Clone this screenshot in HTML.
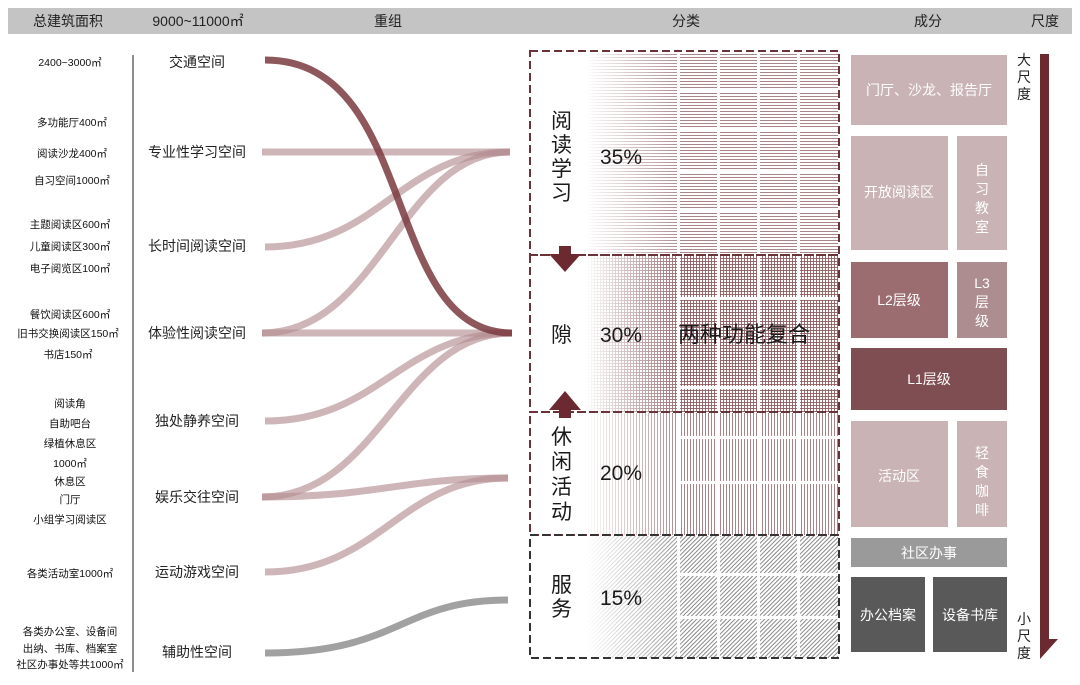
<!DOCTYPE html>
<html><head><meta charset="utf-8"><style>
body{margin:0;background:#fff;}
svg{display:block;font-family:"Liberation Sans","Noto Sans CJK SC",sans-serif;}
</style></head><body>
<svg width="1080" height="685" viewBox="0 0 1080 685" xmlns="http://www.w3.org/2000/svg">
<defs>
<pattern id="ph" width="4" height="3" patternUnits="userSpaceOnUse"><rect width="4" height="1" fill="#a98587"/></pattern>
<pattern id="pg" width="3" height="3" patternUnits="userSpaceOnUse"><rect width="3" height="0.9" fill="#8e5d61"/><rect width="0.9" height="3" fill="#8e5d61"/></pattern>
<pattern id="pv" width="3" height="4" patternUnits="userSpaceOnUse"><rect width="1" height="4" fill="#a98587"/></pattern>
<pattern id="pd" width="3" height="3" patternUnits="userSpaceOnUse" patternTransform="rotate(45)"><rect width="1" height="3" fill="#8a8a8a"/></pattern>
<linearGradient id="fg" x1="0" x2="1" y1="0" y2="0"><stop offset="0" stop-color="#fff" stop-opacity="0"/><stop offset="1" stop-color="#fff"/></linearGradient>
<mask id="fm" maskUnits="userSpaceOnUse" x="0" y="0" width="1080" height="685"><rect x="585" y="0" width="100" height="685" fill="url(#fg)"/><rect x="684" y="0" width="200" height="685" fill="#fff"/></mask>
</defs>
<rect x="8" y="8" width="1064" height="26" fill="#c4c4c4"/>
<g font-size="14" fill="#222" text-anchor="middle">
<text x="68" y="26">总建筑面积</text><text x="198" y="26">9000~11000㎡</text>
<text x="388" y="26">重组</text><text x="686" y="26">分类</text><text x="928" y="26">成分</text><text x="1045" y="26">尺度</text>
</g>
<line x1="133" y1="55" x2="133" y2="672" stroke="#444" stroke-width="1.2"/>
<g font-size="10.5" fill="#111" text-anchor="middle">
<text x="70" y="66">2400~3000㎡</text>
<text x="72" y="126">多功能厅400㎡</text><text x="72" y="157">阅读沙龙400㎡</text><text x="72" y="184">自习空间1000㎡</text>
<text x="70" y="228">主题阅读区600㎡</text><text x="70" y="250">儿童阅读区300㎡</text><text x="70" y="272">电子阅览区100㎡</text>
<text x="70" y="318">餐饮阅读区600㎡</text><text x="68" y="337">旧书交换阅读区150㎡</text><text x="68" y="358">书店150㎡</text>
<text x="70" y="407">阅读角</text><text x="70" y="427">自助吧台</text><text x="70" y="447">绿植休息区</text><text x="70" y="467">1000㎡</text>
<text x="70" y="485">休息区</text><text x="70" y="503">门厅</text><text x="70" y="523">小组学习阅读区</text>
<text x="70" y="577">各类活动室1000㎡</text>
<text x="70" y="635">各类办公室、设备间</text><text x="70" y="652">出纳、书库、档案室</text><text x="70" y="668">社区办事处等共1000㎡</text>
</g>
<g font-size="14" fill="#222" text-anchor="middle">
<text x="197" y="67">交通空间</text><text x="197" y="157">专业性学习空间</text><text x="197" y="251">长时间阅读空间</text>
<text x="197" y="338">体验性阅读空间</text><text x="197" y="426">独处静养空间</text><text x="197" y="502">娱乐交往空间</text>
<text x="197" y="577">运动游戏空间</text><text x="197" y="657">辅助性空间</text>
</g>
<g fill="none" stroke-width="7" stroke-linecap="butt">
<g stroke="#b48e92" stroke-opacity="0.65">
<path d="M262 152 L510 152"/>
<path d="M265 247 C380 247 400 152 510 152"/>
<path d="M262 333 C380 333 400 152 510 152"/>
<path d="M262 333 L512 333"/>
<path d="M265 421 C380 421 400 333 512 333"/>
<path d="M262 497 C380 497 400 333 512 333"/>
<path d="M262 497 C380 497 400 478 508 478"/>
<path d="M265 572 C380 572 400 478 508 478"/>
</g>
<path d="M265 60 C420 60 380 333 512 333" stroke="#7a3a40" stroke-opacity="0.85"/>
<path d="M265 653 C400 653 400 600 508 600" stroke="#8a8a8a" stroke-opacity="0.8"/>
</g>
<g mask="url(#fm)">
<rect x="585" y="52" width="253" height="203" fill="url(#ph)"/>
<rect x="585" y="256" width="253" height="156" fill="url(#pg)"/>
<rect x="585" y="413" width="253" height="122" fill="url(#pv)"/>
<rect x="585" y="536" width="253" height="122" fill="url(#pd)"/>
</g>
<g fill="#fff">
<rect x="677" y="50" width="3" height="608"/><rect x="717" y="50" width="3" height="608"/>
<rect x="757" y="50" width="3" height="608"/><rect x="797" y="50" width="3" height="608"/>
<rect x="680" y="89" width="160" height="3"/><rect x="680" y="129" width="160" height="3"/>
<rect x="680" y="169" width="160" height="3"/><rect x="680" y="209" width="160" height="3"/>
<rect x="680" y="297" width="160" height="3"/><rect x="680" y="386" width="160" height="3"/>
<rect x="680" y="436" width="160" height="3"/><rect x="680" y="481" width="160" height="3"/>
<rect x="680" y="573" width="160" height="3"/><rect x="680" y="616" width="160" height="3"/>
</g>
<g fill="none" stroke-width="2" stroke-dasharray="8 4">
<rect x="530" y="51" width="309" height="204" stroke="#6b3338"/>
<rect x="530" y="255" width="309" height="157" stroke="#6b3338"/>
<rect x="530" y="412" width="309" height="123" stroke="#6b3338"/>
<rect x="530" y="535" width="309" height="123" stroke="#333"/>
</g>
<path d="M559 246 h12 v8 h10 l-16 18 l-16 -18 h10 z" fill="#6b2a2f"/>
<path d="M559 418 h12 v-8 h10 l-16 -19 l-16 19 h10 z" fill="#6b2a2f"/>
<g font-size="21" fill="#1a1a1a">
<text x="551" y="128">阅</text><text x="551" y="152">读</text><text x="551" y="176">学</text><text x="551" y="200">习</text>
<text x="600" y="164">35%</text>
<text x="551" y="342">隙</text><text x="600" y="342">30%</text><text x="678" y="342" font-size="22">两种功能复合</text>
<text x="551" y="444">休</text><text x="551" y="469">闲</text><text x="551" y="494">活</text><text x="551" y="519">动</text>
<text x="600" y="480">20%</text>
<text x="551" y="592">服</text><text x="551" y="616">务</text><text x="600" y="605">15%</text>
</g>
<g>
<rect x="851" y="55" width="156" height="70" fill="#c9b3b4"/>
<rect x="851" y="136" width="97" height="114" fill="#c9b3b4"/>
<rect x="957" y="136" width="50" height="114" fill="#c9b3b4"/>
<rect x="851" y="262" width="97" height="76" fill="#9b6c70"/>
<rect x="957" y="262" width="50" height="76" fill="#ad8d90"/>
<rect x="851" y="348" width="156" height="62" fill="#7e4e52"/>
<rect x="851" y="421" width="97" height="106" fill="#c9b3b4"/>
<rect x="957" y="421" width="50" height="106" fill="#c9b3b4"/>
<rect x="851" y="538" width="156" height="29" fill="#9a9a9a"/>
<rect x="851" y="577" width="74" height="75" fill="#595959"/>
<rect x="933" y="577" width="74" height="75" fill="#595959"/>
</g>
<g font-size="14" fill="#fff" text-anchor="middle">
<text x="929" y="95">门厅、沙龙、报告厅</text>
<text x="899" y="197">开放阅读区</text>
<text x="982" y="175">自</text><text x="982" y="194">习</text><text x="982" y="213">教</text><text x="982" y="232">室</text>
<text x="899" y="305">L2层级</text>
<text x="982" y="288">L3</text><text x="982" y="307">层</text><text x="982" y="326">级</text>
<text x="929" y="384">L1层级</text>
<text x="899" y="481">活动区</text>
<text x="982" y="458">轻</text><text x="982" y="477">食</text><text x="982" y="496">咖</text><text x="982" y="515">啡</text>
<text x="929" y="558">社区办事</text>
<text x="888" y="620">办公档案</text><text x="970" y="620">设备书库</text>
</g>
<path d="M1040 54 h9 v585 h9 l-18 20 z" fill="#6b2a2f"/>
<g font-size="14" fill="#222" text-anchor="middle">
<text x="1024" y="65">大</text><text x="1024" y="82">尺</text><text x="1024" y="99">度</text>
<text x="1024" y="624">小</text><text x="1024" y="641">尺</text><text x="1024" y="658">度</text>
</g>
</svg>
</body></html>
